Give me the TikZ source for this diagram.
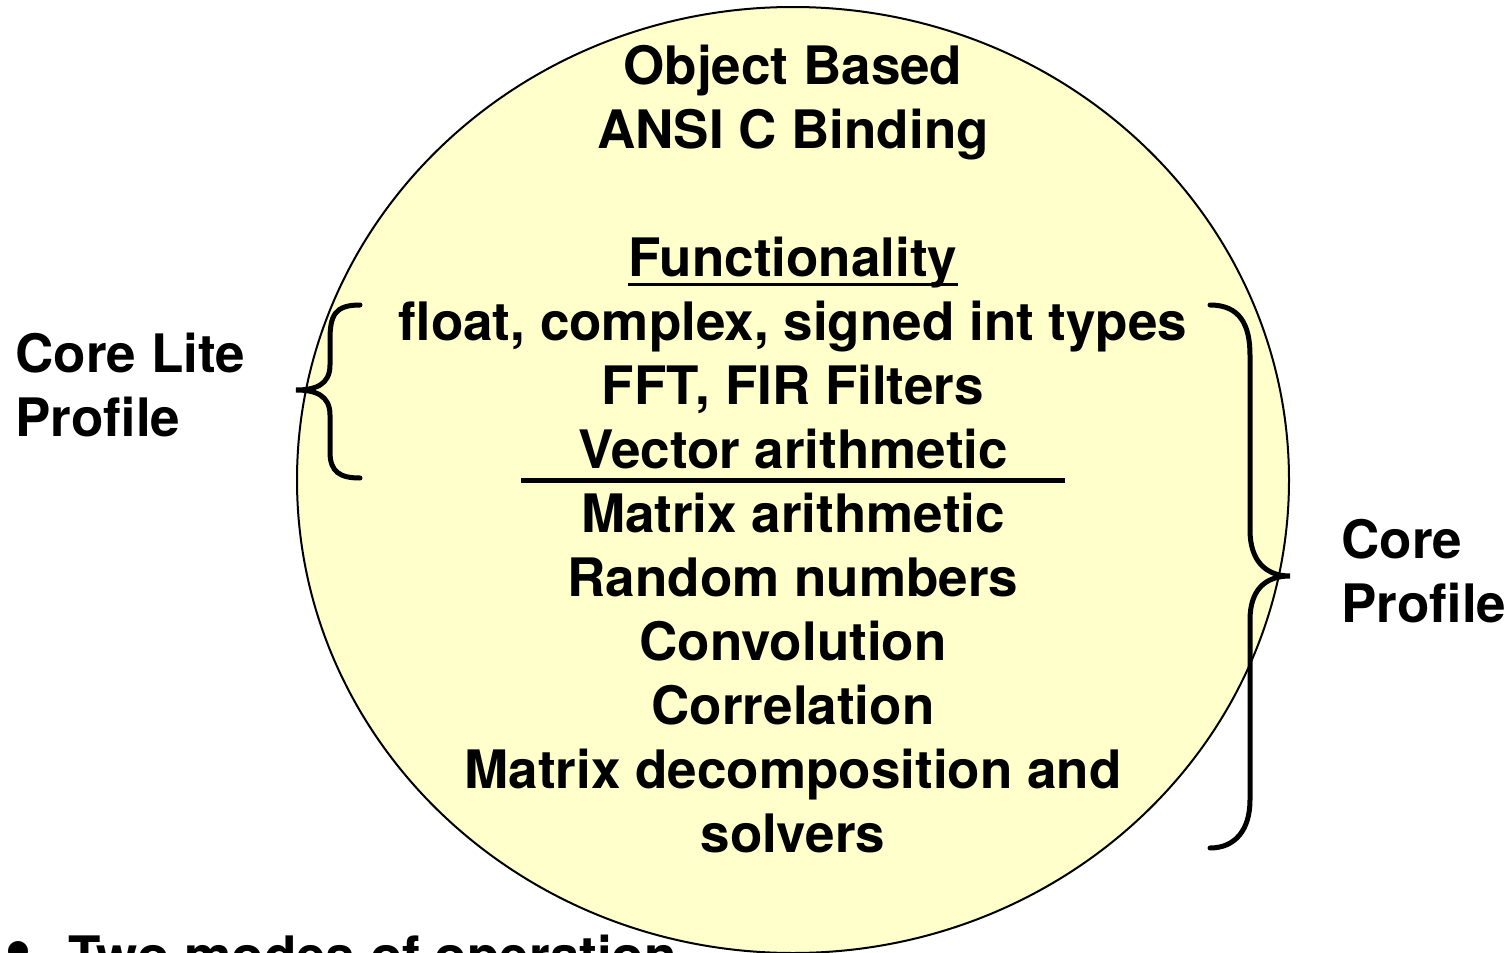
\documentclass[tikz,border=0pt]{standalone}
\usepackage{fontspec}
\setmainfont{TeX Gyre Heros}
\usepackage{xcolor}
\definecolor{paleyellow}{RGB}{255,255,204}
\usetikzlibrary{calc, positioning}

\begin{document}
\begin{tikzpicture}[x=0.5pt, y=-0.5pt,
    txt/.style={inner sep=0pt, anchor=base, font=\fontsize{26.5}{32}\selectfont\bfseries},
    side/.style={txt, anchor=base west},
    brace/.style={line width=2.5pt, line cap=round}]
    \useasboundingbox (0, 0) rectangle (1512, 953);

    \draw[line width=1pt, fill=paleyellow] (793, 480) ellipse [x radius=496, y radius=473];

    \node[txt] (obj) at (793, 84) {Object Based};
    \node[txt] (ansi) at (793, 148) {ANSI C Binding};
    \node[txt] (func) at (793, 276) {Functionality};
    \node[txt] (types) at (793, 340) {float, complex, signed int types};
    \node[txt] (fft) at (793, 404) {FFT, FIR Filters};
    \node[txt] (vec) at (793, 468) {Vector arithmetic};
    \node[txt] (mat) at (793, 532) {Matrix arithmetic};
    \node[txt] (rnd) at (793, 596) {Random numbers};
    \node[txt] (conv) at (793, 660) {Convolution};
    \node[txt] (corr) at (793, 724) {Correlation};
    \node[txt] (dec) at (793, 788) {Matrix decomposition and};
    \node[txt] (solv) at (793, 852) {solvers};

    \draw[line width=1.5pt] ([yshift=-4pt]func.base west) -- ([yshift=-4pt]func.base east);
    \coordinate (ruleL) at (521, 480);
    \coordinate (ruleR) at (1065, 480);
    \draw[line width=2.5pt] (ruleL) -- (ruleR);

    \node[side] (lite1) at (15, 372) {Core Lite};
    \node[side] (lite2) at (15, 436) {Profile};
    \node[side] (core1) at (1341, 558) {Core};
    \node[side] (core2) at (1341, 622) {Profile};

    \draw[brace]
    (360, 305) .. controls (335, 305) and (330, 315) .. (330, 340) -- (330, 365)
    .. controls (330, 385) and (315, 390) .. (296, 390)
    .. controls (315, 390) and (330, 395) .. (330, 415) -- (330, 452)
    .. controls (330, 472) and (340, 478) .. (360, 478);

    \draw[brace]
    (1210, 305) .. controls (1240, 305) and (1250, 325) .. (1250, 355) -- (1250, 530)
    .. controls (1250, 560) and (1265, 576) .. (1290, 576)
    .. controls (1265, 576) and (1250, 590) .. (1250, 620) -- (1250, 800)
    .. controls (1250, 830) and (1235, 848) .. (1210, 848);

    \node[side, font=\fontsize{40}{40}\selectfont\bfseries] (bul) at (4, 975) {\textbullet};
    \node[side] (modes) at (68, 974) {Two modes of operation};
\end{tikzpicture}
\end{document}
